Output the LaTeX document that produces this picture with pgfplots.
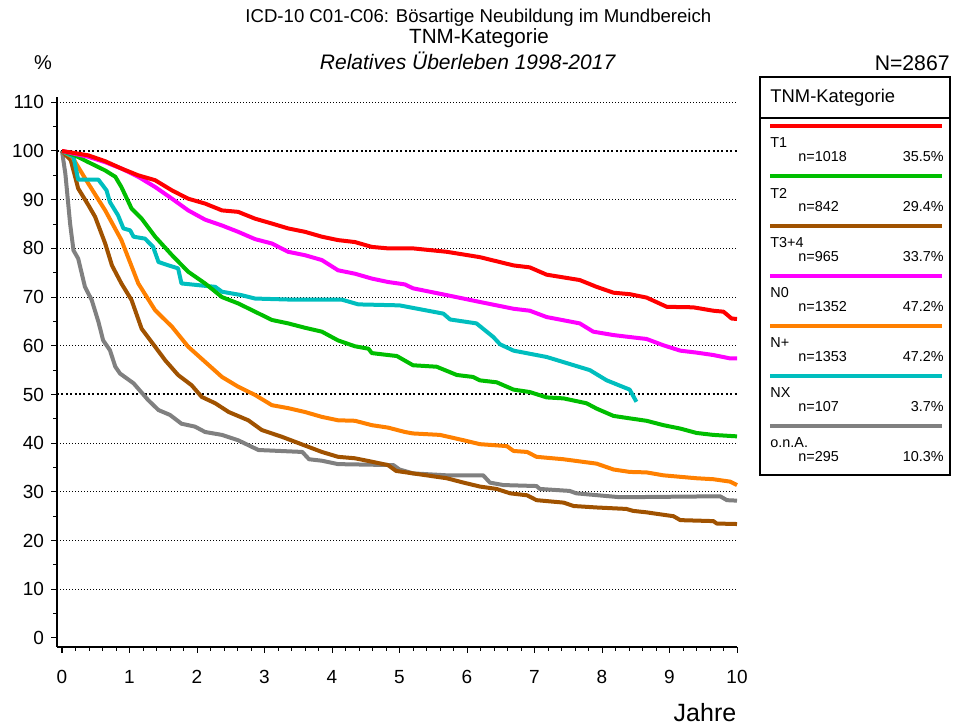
\documentclass[border=0pt]{standalone}
\usepackage{fontspec}
\setmainfont{Liberation Sans}
\usepackage{pgfplots}
\pgfplotsset{compat=1.18}

\definecolor{cT1}{RGB}{255,0,0}
\definecolor{cT2}{RGB}{0,190,0}
\definecolor{cT34}{RGB}{160,82,0}
\definecolor{cN0}{RGB}{255,0,255}
\definecolor{cNp}{RGB}{255,128,0}
\definecolor{cNX}{RGB}{0,190,190}
\definecolor{cNA}{RGB}{128,128,128}

\begin{document}
\begin{tikzpicture}
\path[use as bounding box] (0,0) rectangle (476.5pt,363pt);

% titles
\node[font=\fontsize{9.3}{10}\selectfont] at (239.2pt,354pt) {ICD-10 C01-C06: Bösartige Neubildung im Mundbereich};
\node[font=\fontsize{10.3}{11}\selectfont] at (239.5pt,344pt) {TNM-Kategorie};
\node[font=\fontsize{10.5}{11}\selectfont\itshape] at (233.8pt,332.5pt) {Relatives Überleben 1998-2017};
\node[font=\fontsize{10}{11}\selectfont] at (21.5pt,331.5pt) {\%};
\node[font=\fontsize{10.6}{11}\selectfont,anchor=east,inner sep=0pt] at (475pt,331.5pt) {N=2867};
\node[font=\fontsize{12.5}{13}\selectfont] at (352.5pt,6.5pt) {Jahre};

\begin{axis}[
  at={(31pt,44pt)}, anchor=origin,
  x=33.75pt, y=2.435pt,
  xmin=-0.074, xmax=10, ymin=-1.85, ymax=111,
  axis x line*=bottom, axis y line*=left,
  axis line style={-, line width=0.6pt},
  xtick={0,...,10}, minor x tick num=4,
  ytick={0,10,...,110}, minor y tick num=1,
  tick align=outside,
  major tick length=3pt, minor tick length=2pt,
  tick style={black, line width=0.5pt},
  ticklabel style={font=\fontsize{9.5}{11}\selectfont},
  xticklabel style={yshift=-5pt},
  /pgf/number format/assume math mode=true,
  clip=false,
]
% grid
\pgfplotsinvokeforeach{10,20,30,40,60,70,80,90,110}{
  \draw[line width=0.5pt, dash pattern=on 0.5pt off 1pt] (axis cs:-0.074,#1) -- (axis cs:10,#1);
}
\pgfplotsinvokeforeach{50,100}{
  \draw[line width=1pt, dash pattern=on 1pt off 1.2pt] (axis cs:-0.074,#1) -- (axis cs:10,#1);
}

% o.n.A.
\addplot[cNA, line width=2pt, line join=round] coordinates {
(0,100) (0.05,95.3) (0.12,85.1) (0.17,79.6) (0.24,77.9) (0.34,72.1) (0.44,69.4)
(0.54,64.9) (0.61,61.1) (0.71,59.1) (0.79,55.7) (0.86,54.3) (1.06,52.3) (1.28,48.8)
(1.43,46.8) (1.60,45.8) (1.77,44.0) (1.97,43.4) (2.12,42.3) (2.37,41.7) (2.61,40.6)
(2.91,38.6) (3.56,38.2) (3.66,36.7) (3.85,36.4) (4.09,35.7) (4.91,35.5) (5.00,34.6)
(5.20,33.8) (5.70,33.4) (6.24,33.4) (6.34,31.9) (6.54,31.4) (7.03,31.2) (7.08,30.6)
(7.52,30.2) (7.62,29.7) (8.27,28.9) (9.75,29.1) (9.85,28.3) (10.0,28.2)};

% T3+4
\addplot[cT34, line width=2pt, line join=round] coordinates {
(0,100) (0.13,98.1) (0.24,92.3) (0.39,88.9) (0.49,86.5) (0.64,81.0) (0.74,76.5)
(0.88,72.8) (1.03,69.4) (1.18,63.5) (1.38,59.8) (1.53,57.0) (1.72,54.0) (1.92,51.9)
(2.07,49.5) (2.27,48.2) (2.47,46.4) (2.76,44.7) (2.96,42.7) (3.26,41.3) (3.45,40.3)
(3.85,38.2) (4.09,37.2) (4.34,36.9) (4.59,36.2) (4.83,35.5) (4.95,34.3) (5.20,33.8)
(5.70,32.8) (5.95,31.9) (6.19,31.1) (6.44,30.6) (6.64,29.7) (6.89,29.3) (7.03,28.3)
(7.43,27.8) (7.58,27.1) (7.92,26.8) (8.36,26.5) (8.46,26.1) (8.66,25.8) (9.06,25.0)
(9.16,24.2) (9.65,24.0) (9.70,23.5) (10.0,23.4)};

% N+
\addplot[cNp, line width=2pt, line join=round] coordinates {
(0,100) (0.15,98.8) (0.24,96.7) (0.39,93.3) (0.64,87.8) (0.88,81.7) (1.13,72.8)
(1.38,67.3) (1.63,63.9) (1.87,59.8) (2.12,56.7) (2.37,53.6) (2.61,51.6) (2.86,49.9)
(3.11,47.8) (3.35,47.2) (3.60,46.4) (3.85,45.4) (4.09,44.7) (4.34,44.6) (4.59,43.7)
(4.83,43.2) (5.08,42.3) (5.20,42.0) (5.60,41.7) (5.95,40.6) (6.19,39.8) (6.59,39.4)
(6.69,38.4) (6.89,38.2) (7.03,37.2) (7.43,36.7) (7.92,35.8) (8.17,34.6) (8.41,34.1)
(8.66,34.0) (8.91,33.4) (9.40,32.8) (9.65,32.6) (9.90,32.1) (10.0,31.4)};

% NX
\addplot[cNX, line width=2pt, line join=round] coordinates {
(0,100) (0.17,98.8) (0.24,94.1) (0.54,94.1) (0.66,91.9) (0.71,89.5) (0.83,86.8)
(0.91,84.1) (1.01,83.7) (1.06,82.4) (1.23,82.0) (1.35,80.3) (1.43,77.2) (1.58,76.5)
(1.72,75.9) (1.77,72.8) (2.27,72.1) (2.37,71.1) (2.66,70.4) (2.86,69.7) (3.35,69.5)
(4.14,69.5) (4.39,68.5) (5.00,68.3) (5.65,66.6) (5.75,65.4) (6.14,64.6) (6.39,61.8)
(6.49,60.3) (6.69,59.0) (7.18,57.7) (7.82,55.0) (8.07,52.9) (8.41,51.0) (8.51,48.5)};

% T2
\addplot[cT2, line width=2pt, line join=round] coordinates {
(0,100) (0.19,99.1) (0.39,97.7) (0.64,96.0) (0.79,94.7) (0.88,92.6) (1.03,88.2)
(1.18,86.1) (1.38,82.4) (1.63,78.6) (1.87,75.2) (2.12,72.8) (2.37,70.0) (2.61,68.7)
(2.86,67.0) (3.11,65.3) (3.35,64.6) (3.60,63.7) (3.85,62.9) (4.09,61.1) (4.34,59.9)
(4.54,59.4) (4.59,58.5) (4.83,58.1) (4.96,57.9) (5.20,56.0) (5.55,55.7) (5.85,54.0)
(6.09,53.6) (6.19,52.9) (6.44,52.5) (6.69,51.0) (6.93,50.5) (7.18,49.4) (7.43,49.2)
(7.77,48.2) (7.92,47.1) (8.17,45.6) (8.41,45.1) (8.66,44.6) (8.91,43.7) (9.16,43.0)
(9.40,42.1) (9.65,41.7) (10.0,41.4)};

% N0
\addplot[cN0, line width=2pt, line join=round] coordinates {
(0,100) (0.39,98.8) (0.64,97.7) (0.88,96.4) (1.13,94.7) (1.38,92.6) (1.63,90.2)
(1.87,87.8) (2.12,85.9) (2.37,84.7) (2.61,83.4) (2.86,81.9) (3.11,81.0) (3.35,79.3)
(3.60,78.6) (3.85,77.6) (4.09,75.5) (4.34,74.8) (4.59,73.8) (4.83,73.1) (5.08,72.6)
(5.20,71.8) (5.70,70.4) (6.19,69.0) (6.69,67.6) (6.93,67.2) (7.18,65.9) (7.67,64.6)
(7.87,62.9) (8.17,62.2) (8.41,61.8) (8.66,61.4) (8.91,60.1) (9.16,59.0) (9.40,58.6)
(9.65,58.1) (9.90,57.4) (10.0,57.4)};

% T1
\addplot[cT1, line width=2pt, line join=round] coordinates {
(0,100) (0.39,99.1) (0.64,97.9) (0.88,96.4) (1.13,95.0) (1.38,94.0) (1.63,91.9)
(1.87,90.2) (2.12,89.2) (2.37,87.8) (2.61,87.5) (2.86,86.1) (3.11,85.1) (3.35,84.1)
(3.60,83.4) (3.85,82.4) (4.09,81.7) (4.34,81.3) (4.59,80.3) (4.83,80.0) (5.20,80.0)
(5.70,79.3) (6.19,78.2) (6.69,76.5) (6.93,76.1) (7.18,74.6) (7.67,73.5) (7.92,72.1)
(8.17,70.9) (8.41,70.6) (8.66,69.9) (8.96,68.0) (9.35,67.9) (9.65,67.2) (9.80,67.0)
(9.92,65.6) (10.0,65.5)};
\end{axis}

% legend box
\draw[line width=0.6pt] (380pt,125.5pt) rectangle (475pt,324.5pt);
\draw[line width=0.6pt] (380pt,304pt) -- (475pt,304pt);
\node[font=\fontsize{9.2}{10}\selectfont,anchor=west,inner sep=0pt] at (385pt,314pt) {TNM-Kategorie};
\foreach \c/\name/\n/\p [count=\k from 0] in {cT1/T1/n=1018/35.5\%, cT2/T2/n=842/29.4\%, cT34/T3+4/n=965/33.7\%, cN0/N0/n=1352/47.2\%, cNp/N+/n=1353/47.2\%, cNX/NX/n=107/3.7\%, cNA/o.n.A./n=295/10.3\%} {
  \pgfmathsetmacro{\yl}{300-25*\k}
  \draw[\c, line width=2pt] (385pt,\yl pt) -- (471pt,\yl pt);
  \node[font=\fontsize{7.2}{8}\selectfont,anchor=west,inner sep=0pt] at (385pt,\yl pt-8.5pt) {\name};
  \node[font=\fontsize{7.2}{8}\selectfont,anchor=west,inner sep=0pt] at (399pt,\yl pt-15.5pt) {\n};
  \node[font=\fontsize{7.2}{8}\selectfont,anchor=east,inner sep=0pt] at (472pt,\yl pt-15.5pt) {\p};
}
\end{tikzpicture}
\end{document}
